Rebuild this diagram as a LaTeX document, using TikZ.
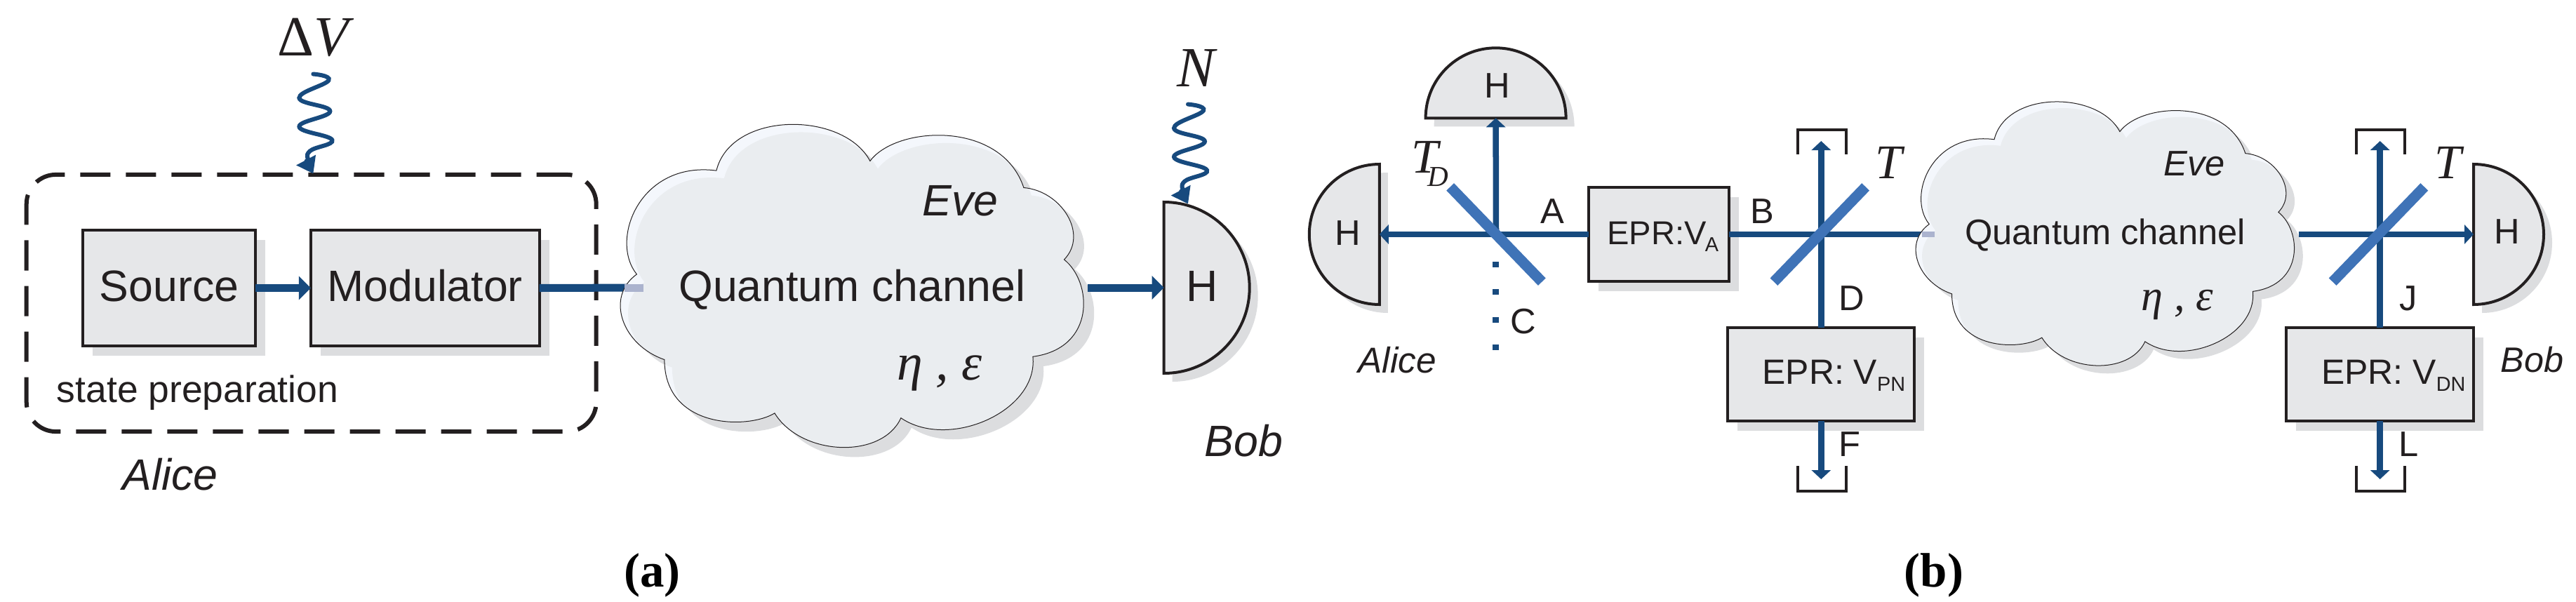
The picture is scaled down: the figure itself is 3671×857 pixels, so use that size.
\documentclass[tikz,border=0pt]{standalone}
\usepackage{fontspec}
\setmainfont{Liberation Sans}
\newfontfamily\timesfont{Liberation Serif}
\usetikzlibrary{arrows.meta,shadows}
\definecolor{beamblue}{HTML}{174A7E}
\definecolor{mirrorblue}{HTML}{3F73B7}
\definecolor{fadeblue}{HTML}{ABB3CE}
\definecolor{boxgray}{HTML}{E6E7E9}
\definecolor{shadegray}{HTML}{DCDDDF}
\definecolor{cloudgray}{HTML}{EAEDF0}
\definecolor{cloudlight}{HTML}{F4F7FC}
\definecolor{inkblack}{HTML}{231F20}

\newcommand{\bigsf}{\fontsize{17.8}{20}\selectfont}
\newcommand{\midsf}{\fontsize{14.4}{17}\selectfont}
\newcommand{\smallsf}{\fontsize{13.4}{16}\selectfont}
\newcommand{\subsf}[1]{\raisebox{-.1cm}{\fontsize{8.2}{9}\selectfont #1}}

% cloud outline, in pixels from its top left corner
\newcommand{\cloudoutline}{(25.5,247)
  .. controls (-14,190) and (30,58) .. (139,74.6)
  .. controls (160,-25) and (320,-25) .. (358,58.7)
  .. controls (395,0) and (545,-10) .. (577,103)
  .. controls (630,108) and (670,180) .. (634.6,222.6)
  .. controls (675,260) and (680,370) .. (590,384)
  .. controls (598,475) and (470,540) .. (402,486)
  .. controls (375,555) and (260,550) .. (222,478)
  .. controls (185,505) and (65,505) .. (65,389)
  .. controls (5,365) and (-20,285) .. (25.5,247) -- cycle}
\newcommand{\evecloud}[3]{%
  \begin{scope}[shift={(#1,#2)},scale=#3,yscale=.857]
    \fill[shadegray,shift={(15,16)}] \cloudoutline;
    \fill[cloudlight] \cloudoutline;
    \begin{scope}
      \clip \cloudoutline;
      \fill[cloudgray,shift={(11,13)}] \cloudoutline;
    \end{scope}
    \draw[inkblack,line width=.01cm] \cloudoutline;
  \end{scope}}

% half round detector: x, y of the flat side, angle, radius, name
\newcommand{\detector}[5]{%
  \fill[shadegray,shift={(#1+12,#2+12)},rotate=#3]
    (0,-#4) arc[start angle=-90,end angle=90,radius=#4] -- cycle;
  \draw[inkblack,fill=boxgray,line width=.04cm,shift={(#1,#2)},rotate=#3]
    (0,-#4) arc[start angle=-90,end angle=90,radius=#4] -- cycle;
  \coordinate (#5) at (#1,#2);}

\begin{document}
\begin{tikzpicture}[x=.01cm,y=-.01cm,
  optbox/.style={draw=inkblack,line width=.04cm,fill=boxgray,inner sep=0pt,outer sep=0pt,
    text=inkblack,general shadow={fill=shadegray,shadow xshift=.14cm,shadow yshift=-.14cm}},
  boxa/.style={optbox,minimum height=1.64cm,font=\bigsf,text height=.465cm,text depth=.095cm},
  boxb/.style={optbox,minimum height=1.33cm,font=\fontsize{14.2}{17}\selectfont,text height=.34cm,text depth=.06cm},
  prepbox/.style={draw=inkblack,line width=.06cm,dash pattern=on .43cm off .22cm,rounded corners=.42cm,
    minimum width=8.115cm,minimum height=3.66cm,inner sep=0pt,outer sep=0pt},
  beama/.style={beamblue,line width=.11cm,>={Triangle[length=1.7mm,width=3.3mm]}},
  beamb/.style={beamblue,line width=.085cm,>={Triangle[length=1.3mm,width=2.7mm]}},
  beamfade/.style={fadeblue,line width=#1},
  beamdots/.style={beamblue,line width=.09cm,dash pattern=on .08cm off .314cm},
  wavearrow/.style={beamblue,line width=.06cm,line cap=round,-{Triangle[length=2.2mm,width=3mm]}},
  mirror/.style={fill=mirrorblue,minimum width=1.88cm,minimum height=.15cm,inner sep=0pt},
  dump/.style={inkblack,line width=.045cm},
  lab/.style={inner sep=0pt,anchor=base,text=inkblack},
  laba/.style={lab,font=\bigsf},
  labb/.style={lab,font=\midsf},
  serif/.style={lab,font=\timesfont\itshape\fontsize{#1}{#1}\selectfont},
  caption/.style={inner sep=0pt,anchor=base,text=black,font=\timesfont\bfseries\fontsize{19.6}{22}\selectfont}]
  \useasboundingbox (0,0) rectangle (3671,857);

  % part a: sender box
  \node[prepbox] (prep) at (443.7,432) {};
  \node[boxa,minimum width=2.45cm] (source) at (241,410.5) {Source};
  \node[boxa,minimum width=3.255cm] (modul) at (605.7,410.5) {Modulator};
  \draw[beama,->] (source) -- (modul);
  \node[lab,font=\fontsize{15.2}{18}\selectfont] (prepl) at (281.5,573.8) {state preparation};
  \node[lab,font=\bigsf\itshape] (alicea) at (242.3,698.4) {Alice};

  % part a: channel and detector
  \coordinate (cina) at (916.5,410);
  \coordinate (fadea) at (889.7,410);
  \coordinate (couta) at (1550.3,410);
  \draw[beama] (modul.east) -- (cina);
  \evecloud{881.9}{179.2}{1}
  \draw[beamfade=.11cm] (fadea) -- (cina);
  \detector{1658.7}{410}{0}{122}{deta}
  \draw[beama,->] (couta) -- (deta);
  \node[laba] (ha) at (1713,429) {H};
  \node[laba] (qca) at (1214.5,429) {Quantum channel};
  \node[lab,font=\bigsf\itshape] (evea) at (1368.8,307.7) {Eve};
  \node[serif=21] (etaa) at (1339,541) {η , ε};
  \node[lab,font=\bigsf\itshape] (boba) at (1772.2,650) {Bob};

  % noise inputs
  \node[lab,font=\timesfont\fontsize{23}{26}\selectfont] (dv) at (450,79) {Δ\textit{V}};
  \node[serif=23] (noise) at (1704,123) {N};
  \coordinate (wavea) at (446.4,105.5);
  \coordinate (waveb) at (1693,148.6);
  \draw[wavearrow,shift={(wavea)}] plot[smooth,tension=.75] coordinates
    {(0,0) (22,9) (-20,34) (24,53) (-20,75) (27,94) (-5,110) (-6,126) (0,142)};
  \draw[wavearrow,shift={(waveb)}] plot[smooth,tension=.75] coordinates
    {(0,0) (22,9) (-20,34) (24,53) (-20,75) (27,94) (-5,110) (-6,126) (0,142)};

  % part b: homodyne arm
  \node[boxb,minimum width=2.003cm,font=\smallsf] (eprA) at (2363.8,334) {\hspace*{.12cm}EPR:V\kern-.02cm\subsf{A}};
  \coordinate (bsDc) at (2132,334);
  \coordinate (dota) at (2131.6,373);
  \coordinate (dotb) at (2131.6,502);
  \detector{1965.8}{334}{180}{100}{detL}
  \detector{2131.6}{168.3}{90}{100}{detT}
  \draw[beamb,->] (eprA) -- (detL);
  \draw[beamb,->] (bsDc) -- (detT);
  \draw[beamdots] (dota) -- (dotb);
  \node[mirror,rotate=-46] (bsD) at (bsDc) {};
  \node[labb] (hl) at (1920.5,349.7) {H};
  \node[labb] (ht) at (2133.5,139.3) {H};
  \node[labb] (la) at (2212.3,318) {A};
  \node[labb] (lb) at (2511.7,318) {B};
  \node[labb] (lc) at (2170.5,475.4) {C};
  \node[lab,font=\fontsize{14.6}{17}\selectfont\itshape] (aliceb) at (1991.3,531.7) {Alice};
  \node[serif=19.6,anchor=base west] (td) at (2010.5,246)
    {T\kern-.15cm\raisebox{-.19cm}{\fontsize{11.7}{12}\selectfont D}};

  % part b: first splitter
  \node[boxb,minimum width=2.659cm] (eprP) at (2595.3,533.6) {\hspace*{.36cm}EPR: V\subsf{PN}};
  \coordinate (bsTc) at (2593.3,334);
  \coordinate (dumpa) at (2595.3,201);
  \coordinate (dumpb) at (2595.3,683);
  \coordinate (cinb) at (2756.6,334);
  \coordinate (fadeb) at (2738.8,334);
  \draw[beamb,->] (eprP) -- (dumpa);
  \draw[beamb,->] (eprP) -- (dumpb);
  \draw[beamb] (eprA) -- (cinb);
  \node[mirror,rotate=46] (bsT) at (bsTc) {};
  \draw[dump] (2562,220) -- (2562,185) -- (2631,185) -- (2631,220);
  \draw[dump] (2562,664) -- (2562,700) -- (2631,700) -- (2631,664);
  \node[labb] (ld) at (2638.6,442.6) {D};
  \node[labb] (lf) at (2635.5,650.3) {F};
  \node[serif=19.6] (tb) at (2692,254) {T};

  % part b: channel
  \evecloud{2728.4}{146.5}{.817}
  \draw[beamfade=.085cm] (fadeb) -- (cinb);
  \node[lab,font=\midsf] (qcb) at (3000,348) {Quantum channel};
  \node[lab,font=\midsf\itshape] (eveb) at (3127,250.3) {Eve};
  \node[serif=17.7] (etab) at (3102.7,442.6) {η , ε};

  % part b: second splitter and detector
  \node[boxb,minimum width=2.666cm] (eprD) at (3391.7,533.6) {\hspace*{.38cm}EPR: V\subsf{DN}};
  \coordinate (coutb) at (3275.6,334);
  \coordinate (bsRc) at (3389.5,334);
  \coordinate (dumpc) at (3391.7,201);
  \coordinate (dumpd) at (3391.7,683);
  \detector{3525}{334}{0}{100}{detR}
  \draw[beamb,->] (coutb) -- (detR);
  \draw[beamb,->] (eprD) -- (dumpc);
  \draw[beamb,->] (eprD) -- (dumpd);
  \node[mirror,rotate=46] (bsR) at (bsRc) {};
  \draw[dump] (3358,220) -- (3358,185) -- (3427,185) -- (3427,220);
  \draw[dump] (3358,664) -- (3358,700) -- (3427,700) -- (3427,664);
  \node[labb] (hr) at (3572.8,347.5) {H};
  \node[labb] (lj) at (3431.8,442.6) {J};
  \node[labb] (ll) at (3433,650) {L};
  \node[serif=19.6] (tr) at (3488.3,254) {T};
  \node[lab,font=\fontsize{14.3}{17}\selectfont\itshape] (bobb) at (3608.5,530) {Bob};

  % captions
  \node[caption] (capa) at (929.5,836) {(a)};
  \node[caption] (capb) at (2756,836) {(b)};
\end{tikzpicture}
\end{document}
